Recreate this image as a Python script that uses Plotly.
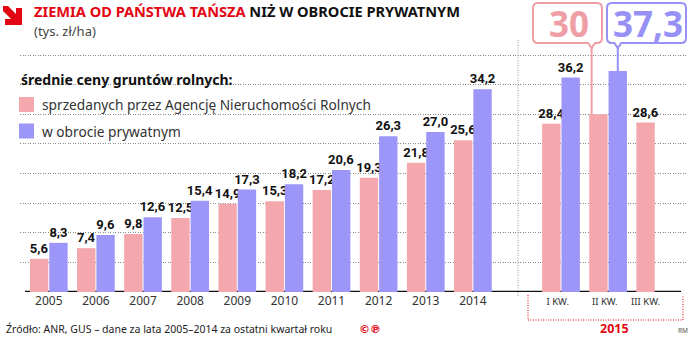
import plotly.graph_objects as go

# ---------------- data ----------------
years = ["2005", "2006", "2007", "2008", "2009", "2010", "2011", "2012", "2013", "2014"]
anr_years = [5.6, 7.4, 9.8, 12.5, 14.9, 15.3, 17.2, 19.3, 21.8, 25.6]
private_years = [8.3, 9.6, 12.6, 15.4, 17.3, 18.2, 20.6, 26.3, 27.0, 34.2]
quarters = ["I KW.", "II KW.", "III KW."]
anr_quarters = [28.4, 30.0, 28.6]
private_quarters = [36.2, 37.3, None]
highlight_quarter = "II KW."
quarter_year = "2015"
grid_values = [5, 10, 15, 20, 25, 30, 35, 40]

title_red = "ZIEMIA OD PAŃSTWA TAŃSZA"
title_black = " NIŻ W OBROCIE PRYWATNYM"
subtitle = "(tys. zł/ha)"
legend_title = "średnie ceny gruntów rolnych:"
name_anr = "sprzedanych przez Agencję Nieruchomości Rolnych"
name_private = "w obrocie prywatnym"
source = "Źródło: ANR, GUS – dane za lata 2005–2014 za ostatni kwartał roku"

# ---------------- style / layout ----------------
W, H = 692, 340
PINK = "#F4A7AC"
BLUE = "#9C96F9"
PINK_DARK = "#F09EA5"
BLUE_DARK = "#9791F5"
RED = "#E30613"
FONT = "Noto Sans"
NUM_FONT = "Liberation Sans Narrow, Roboto, sans-serif"

QSTART = 10.87          # position of first quarter group
BAR_W = 0.39
X0_PX, X1_PX = 20, 686
XR = (-0.611, 13.523)
BASE_PX, TOP_PX, TOP_VAL = 292, 55, 40
PX_PER_UNIT = (BASE_PX - TOP_PX) / TOP_VAL
YR = (0, BASE_PX / PX_PER_UNIT)


def px_x(xd):
    return X0_PX + (xd - XR[0]) / (XR[1] - XR[0]) * (X1_PX - X0_PX)


def fx(px):
    return px / W


def fy(py):
    return 1 - py / H


def yd(py):
    return (BASE_PX - py) / PX_PER_UNIT


def fmt(v):
    return f"{v:.1f}".replace(".", ",")


def fmt_short(v):
    return f"{v:g}".replace(".", ",")


year_pos = list(range(len(years)))
q_pos = [QSTART + k for k in range(len(quarters))]
xpos = year_pos + q_pos
anr_all = anr_years + anr_quarters
priv_all = private_years + private_quarters
labels_all = years + quarters

anr_text = [("" if lab == highlight_quarter else fmt(v)) for lab, v in zip(labels_all, anr_all)]
priv_text = [("" if (lab == highlight_quarter or v is None) else fmt(v)) for lab, v in zip(labels_all, priv_all)]

fig = go.Figure()
common = dict(width=BAR_W, textposition="outside", cliponaxis=False, constraintext="none",
              textfont=dict(family=NUM_FONT, size=13, color="#111", weight="bold"),
              hoverinfo="skip", showlegend=False)
fig.add_trace(go.Bar(x=xpos, y=anr_all, offset=-0.40, marker=dict(color=PINK, line=dict(width=0)),
                     text=anr_text, **common))
fig.add_trace(go.Bar(x=xpos, y=priv_all, offset=0.01, marker=dict(color=BLUE, line=dict(width=0)),
                     text=priv_text, **common))

# tick labels
tickvals, ticktext = [], []
for p, y in zip(year_pos, years):
    tickvals.append(p)
    ticktext.append(y)
for p, q, pv in zip(q_pos, quarters, private_quarters):
    tickvals.append(p - 0.07 if pv is not None else p - 0.205)
    ticktext.append(f"<span style='font-size:9.5px;font-family:Noto Sans'>{q}</span>")

shapes = []
annotations = []

# cover rectangles behind the legend (hide gridlines)
for (x0, y0, x1, y1) in [(15, 68, 248, 92), (15, 112, 193, 141)]:
    shapes.append(dict(type="rect", xref="paper", yref="paper", x0=fx(x0), x1=fx(x1), y0=fy(y1), y1=fy(y0),
                       fillcolor="white", line=dict(width=0), layer="between"))

# baseline
shapes.append(dict(type="line", xref="paper", yref="y", x0=fx(25), x1=fx(681), y0=0, y1=0,
                   line=dict(color="#111", width=2.5), layer="between"))

# separator between years and quarters
sep_px = (px_x(year_pos[-1]) + px_x(q_pos[0])) / 2 + 1
shapes.append(dict(type="line", xref="paper", yref="paper", x0=fx(sep_px), x1=fx(sep_px), y0=fy(40), y1=fy(296),
                   line=dict(color="#999", width=1, dash="1px,1.5px"), layer="between"))

# 2015 bracket
bx0, bx1, by0, by1 = 528, 683, 295, 320
shapes.append(dict(type="path", xref="paper", yref="paper",
                   path=f"M {fx(bx0)},{fy(by0)} L {fx(bx0)},{fy(by1)} L {fx(bx1)},{fy(by1)} L {fx(bx1)},{fy(by0)}",
                   line=dict(color=RED, width=1, dash="1px,1.5px")))
annotations.append(dict(xref="paper", yref="paper", x=fx(614), y=fy(328), text=f"<b>{quarter_year}</b>",
                        showarrow=False, font=dict(family=FONT, size=12.5, color=RED), xanchor="center", yanchor="middle"))


def box_path(x0, y0, x1, y1, nx, r=5, nh=5, nw=3.5):
    pts = [
        f"M {fx(x0 + r)},{fy(y0)}", f"L {fx(x1 - r)},{fy(y0)}",
        f"Q {fx(x1)},{fy(y0)} {fx(x1)},{fy(y0 + r)}", f"L {fx(x1)},{fy(y1 - r)}",
        f"Q {fx(x1)},{fy(y1)} {fx(x1 - r)},{fy(y1)}",
        f"L {fx(nx + nw)},{fy(y1)}", f"L {fx(nx)},{fy(y1 + nh)}", f"L {fx(nx - nw)},{fy(y1)}",
        f"L {fx(x0 + r)},{fy(y1)}", f"Q {fx(x0)},{fy(y1)} {fx(x0)},{fy(y1 - r)}",
        f"L {fx(x0)},{fy(y0 + r)}", f"Q {fx(x0)},{fy(y0)} {fx(x0 + r)},{fy(y0)}", "Z"]
    return " ".join(pts)


# callouts for highlighted quarter
hi = quarters.index(highlight_quarter)
hx = q_pos[hi]
callouts = [
    (anr_quarters[hi], hx - 0.40 + 0.05, 533, 602, PINK_DARK),
    (private_quarters[hi], hx + 0.01 + BAR_W / 2, 607, 686, BLUE_DARK),
]
for val, lx, bx_0, bx_1, col in callouts:
    lpx = px_x(lx)
    shapes.append(dict(type="line", xref="x", yref="y", x0=lx, x1=lx, y0=val, y1=yd(47),
                       line=dict(color=col, width=2), layer="above"))
    shapes.append(dict(type="path", xref="paper", yref="paper", path=box_path(bx_0, 3, bx_1, 43, lpx),
                       fillcolor="white", line=dict(color=col, width=2), layer="above"))
    annotations.append(dict(xref="paper", yref="paper", x=fx((bx_0 + bx_1) / 2 + 1), y=fy(24),
                            text=f"<b>{fmt_short(val)}</b>", showarrow=False,
                            font=dict(family="Open Sans", size=35, color=col), xanchor="center", yanchor="middle"))

# red arrow icon
ax_pts = [(3, 6), (8, 6), (16, 14), (16, 8), (22, 8), (22, 25), (5, 25), (5, 19), (11, 19), (3, 11)]
shapes.append(dict(type="path", xref="paper", yref="paper",
                   path="M " + " L ".join(f"{fx(a)},{fy(b)}" for a, b in ax_pts) + " Z",
                   fillcolor=RED, line=dict(width=0)))

# titles
annotations.append(dict(xref="paper", yref="paper", x=fx(32), y=fy(10.5),
                        text=f"<b><span style='color:{RED}'>{title_red}</span>{title_black}</b>",
                        showarrow=False, font=dict(family=FONT, size=14.6, color="#111"),
                        xanchor="left", yanchor="middle"))
annotations.append(dict(xref="paper", yref="paper", x=fx(32), y=fy(30.5), text=subtitle, showarrow=False,
                        font=dict(family=FONT, size=13, color="#444"), xanchor="left", yanchor="middle"))

# legend
annotations.append(dict(xref="paper", yref="paper", x=fx(19), y=fy(79), text=f"<b>{legend_title}</b>",
                        showarrow=False, font=dict(family=FONT, size=14, color="#111"),
                        xanchor="left", yanchor="middle"))
for (yc, col, name) in [(104.5, PINK, name_anr), (131, BLUE, name_private)]:
    shapes.append(dict(type="rect", xref="paper", yref="paper", x0=fx(19), x1=fx(34),
                       y0=fy(yc + 7.5), y1=fy(yc - 7.5), fillcolor=col, line=dict(width=0)))
    annotations.append(dict(xref="paper", yref="paper", x=fx(40), y=fy(yc), text=name, showarrow=False,
                            font=dict(family=FONT, size=13.7, color="#333"), xanchor="left", yanchor="middle"))

# footer
annotations.append(dict(xref="paper", yref="paper", x=fx(4), y=fy(329), text=source, showarrow=False,
                        font=dict(family=FONT, size=10.5, color="#222"), xanchor="left", yanchor="middle"))
annotations.append(dict(xref="paper", yref="paper", x=fx(357), y=fy(329), text="<b>©℗</b>", showarrow=False,
                        font=dict(family="DejaVu Sans", size=11, color=RED), xanchor="left", yanchor="middle"))
annotations.append(dict(xref="paper", yref="paper", x=fx(690), y=fy(330), text="RM", showarrow=False,
                        font=dict(family=FONT, size=6.5, color="#555"), xanchor="right", yanchor="middle"))

fig.update_layout(
    width=W, height=H, margin=dict(l=0, r=0, t=0, b=0),
    paper_bgcolor="white", plot_bgcolor="white",
    barmode="overlay", showlegend=False,
    xaxis=dict(domain=[fx(X0_PX), fx(X1_PX)], range=list(XR), tickvals=tickvals, ticktext=ticktext,
               showgrid=False, zeroline=False, showline=False, ticks="",
               tickfont=dict(family=FONT, size=12, color="#333"), fixedrange=True),
    yaxis=dict(domain=[fy(BASE_PX), 1], range=list(YR), tickvals=grid_values, showticklabels=False,
               showgrid=True, gridcolor="#8a8a8a", gridwidth=1, griddash="1px,1.5px",
               zeroline=False, showline=False, fixedrange=True),
    shapes=shapes, annotations=annotations,
)

fig.write_html("out.html")
